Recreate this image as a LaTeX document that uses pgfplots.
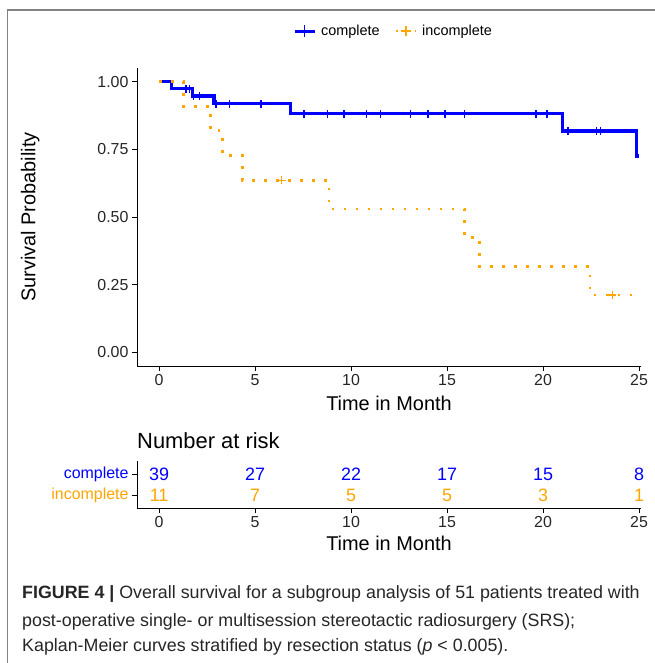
\documentclass[border=0pt]{standalone}
\usepackage{pgfplots}
\pgfplotsset{compat=1.18}
\usepackage{fontspec}
\setmainfont{Liberation Sans}
\definecolor{kmblue}{RGB}{0,0,255}
\definecolor{kmorange}{RGB}{255,165,0}
\definecolor{framegray}{RGB}{130,130,130}
\begin{document}
\begin{tikzpicture}
\path[use as bounding box] (0bp,0bp) rectangle (655bp,663bp);
\draw[framegray, line width=1.5bp] (7.5bp,0bp) -- (7.5bp,653bp) -- (655bp,653bp);
% ---------------- main survival axis ----------------
\begin{axis}[
  at={(137bp,297bp)}, anchor=south west,
  scale only axis, width=504bp, height=298bp,
  xmin=-1.15, xmax=25.1, ymin=-0.05, ymax=1.05,
  axis lines=left, axis line style={-, line width=0.9bp, black},
  tick align=outside, major tick length=5bp, tick style={black, line width=0.9bp},
  xtick={0,5,10,15,20,25},
  ytick={0,0.25,0.5,0.75,1},
  yticklabels={0.00,0.25,0.50,0.75,1.00},
  /pgf/number format/assume math mode=true,
  ticklabel style={font=\fontsize{16}{16}\selectfont, text=black!85},
  xlabel={Time in Month}, ylabel={Survival Probability},
  label style={font=\fontsize{20}{20}\selectfont, text=black},
  xlabel style={at={(axis description cs:0.5,-0.124)}, anchor=center},
  ylabel style={at={(axis description cs:-0.212,0.5)}, anchor=center},
  legend style={at={(axis description cs:0.512,1.124)}, anchor=center, draw=none,
    font=\fontsize{14.5}{14.5}\selectfont, legend columns=2,
    nodes={inner xsep=5bp},
    /tikz/every even column/.append style={column sep=10bp}},
  clip=false,
]
\addlegendimage{legend image code/.code={
  \draw[kmblue,line width=3bp] (0bp,0bp)--(20bp,0bp);
  \draw[kmblue,line width=1.5bp] (10bp,-6bp)--(10bp,6bp);}}
\addlegendentry{complete}
\addlegendimage{legend image code/.code={
  \draw[kmorange,line width=2.5bp,dash pattern=on 2.5bp off 4bp] (0bp,0bp)--(20bp,0bp);
  \draw[kmorange,line width=1.2bp] (10bp,-5bp)--(10bp,5bp) (5bp,0bp)--(15bp,0bp);}}
\addlegendentry{incomplete}
% complete
\addplot[const plot, kmblue, line width=3.4bp, forget plot] coordinates {
 (0,1) (0.66,0.974) (1.75,0.947) (2.86,0.918) (6.86,0.881) (21.0,0.817) (24.88,0.725) (25,0.725)};
\addplot[only marks, mark=|, mark size=4bp, kmblue, mark options={line width=1.5bp}, forget plot] coordinates {
 (1.4,0.974) (1.58,0.974) (1.8,0.947) (2.1,0.947) (2.96,0.918) (3.66,0.918) (5.3,0.918)
 (7.54,0.881) (8.77,0.881) (9.63,0.881) (10.79,0.881) (11.52,0.881) (13.1,0.881)
 (14.0,0.881) (14.9,0.881) (15.9,0.881) (19.63,0.881) (20.2,0.881)
 (21.3,0.817) (22.78,0.817) (23.0,0.817)};
% incomplete
\addplot[const plot, kmorange, line width=2.7bp, dash pattern=on 2.7bp off 9.3bp, forget plot] coordinates {
 (0,1) (1.27,0.909) (2.69,0.818) (3.31,0.727) (4.33,0.636) (8.85,0.530) (15.9,0.424)
 (16.68,0.318) (22.44,0.212) (25,0.212)};
\addplot[only marks, mark=+, mark size=4bp, kmorange, mark options={line width=1.2bp}, forget plot] coordinates {
 (6.38,0.636) (23.6,0.212)};
\end{axis}
% ---------------- risk table ----------------
\node[anchor=west, font=\fontsize{22}{22}\selectfont, inner sep=0] at (137bp,222bp) {Number at risk};
\begin{axis}[
  at={(137bp,155bp)}, anchor=south west,
  scale only axis, width=504bp, height=47bp,
  xmin=-1.15, xmax=25.1, ymin=0.38, ymax=2.62,
  axis lines=left, axis line style={-, line width=0.9bp, black},
  tick align=outside, major tick length=5bp, tick style={black, line width=0.9bp},
  xtick={0,5,10,15,20,25},
  ytick={1,2},
  yticklabels={\textcolor{kmorange}{incomplete},\textcolor{kmblue}{complete}},
  /pgf/number format/assume math mode=true,
  ticklabel style={font=\fontsize{16}{16}\selectfont, text=black!85},
  xlabel={Time in Month},
  label style={font=\fontsize{20}{20}\selectfont, text=black},
  xlabel style={at={(axis description cs:0.5,-0.745)}, anchor=center},
  clip=false,
  nodes near coords, point meta=explicit symbolic,
  nodes near coords align={center},
]
\addplot[draw=none, mark=none, every node near coord/.append style={kmblue, font=\fontsize{18}{18}\selectfont, anchor=center}] coordinates {
 (0,2)[39] (5,2)[27] (10,2)[22] (15,2)[17] (20,2)[15] (25,2)[8]};
\addplot[draw=none, mark=none, every node near coord/.append style={kmorange, font=\fontsize{18}{18}\selectfont, anchor=center}] coordinates {
 (0,1)[11] (5,1)[7] (10,1)[5] (15,1)[5] (20,1)[3] (25,1)[1]};
\end{axis}
% ---------------- caption ----------------
\begin{scope}[every node/.style={anchor=base west, inner sep=0, font=\fontsize{17.9}{17.9}\selectfont, text=black!85}]
\node at (22bp,64bp) {\textbf{FIGURE 4 |} Overall survival for a subgroup analysis of 51 patients treated with};
\node at (22bp,37bp) {post-operative single- or multisession stereotactic radiosurgery (SRS);};
\node at (22bp,12bp) {Kaplan-Meier curves stratified by resection status (\textit{p} < 0.005).};
\end{scope}
\end{tikzpicture}
\end{document}
